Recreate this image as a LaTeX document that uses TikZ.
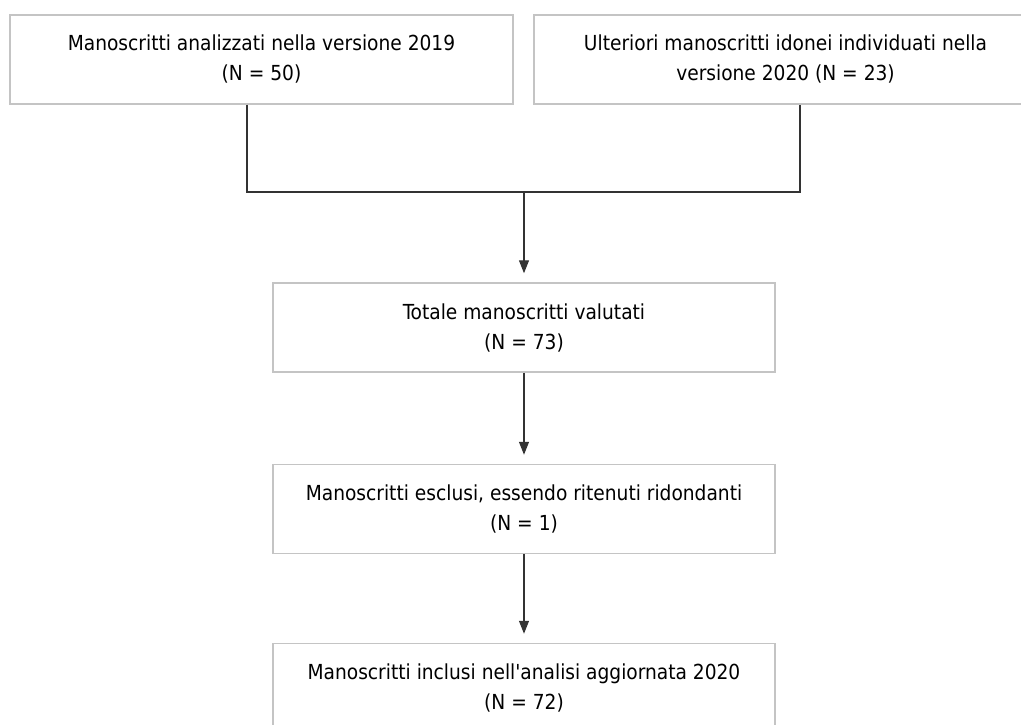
\documentclass[tikz,border=0pt]{standalone}
\usepackage{fontspec}
\setmainfont{DejaVu Sans Condensed}[Ligatures=TeXOff]
\usetikzlibrary{arrows.meta}
\definecolor{boxgray}{HTML}{C4C4C4}
\definecolor{linegray}{HTML}{333333}
\tikzset{
  flowbox/.style={draw=boxgray, line width=1.5pt, minimum height=89pt, inner sep=0pt,
    align=center, font=\fontsize{20.7}{30}\selectfont,
    execute at begin node=\rule{0pt}{21pt}},
  link/.style={linegray, line width=1.3pt},
  linkarrow/.style={link, -{Triangle[length=13pt,width=10pt]}}
}
\begin{document}
\begin{tikzpicture}[x=1pt, y=-1pt]
                \useasboundingbox [fill=white] (0, 0) rectangle (1021, 725);
                % top row
                \node [flowbox, minimum width=503pt] (ana) at (261.5, 59.5)
                    {Manoscritti analizzati nella versione 2019\\(N = 50)};
                \node [flowbox, minimum width=503pt] (ult) at (785.5, 59.5)
                    {Ulteriori manoscritti idonei individuati nella\\versione 2020 (N = 23)};
                % centre column
                \node [flowbox, minimum width=502pt] (tot) at (524, 327.5)
                    {Totale manoscritti valutati\\(N = 73)};
                \node [flowbox, minimum width=502pt] (esc) at (524, 509)
                    {Manoscritti esclusi, essendo ritenuti ridondanti\\(N = 1)};
                \node [flowbox, minimum width=502pt] (inc) at (524, 688)
                    {Manoscritti inclusi nell'analisi aggiornata 2020\\(N = 72)};
                % junction
                \coordinate (join) at (524, 192);
                \draw [link] ([xshift=-14.5pt]ana.south) |- (join) -| ([xshift=14.5pt]ult.south);
                \draw [linkarrow] (join) -- ([yshift=9pt]tot.north);
                \draw [linkarrow] (tot.south) -- ([yshift=9pt]esc.north);
                \draw [linkarrow] (esc.south) -- ([yshift=9pt]inc.north);
            \end{tikzpicture}
\end{document}
